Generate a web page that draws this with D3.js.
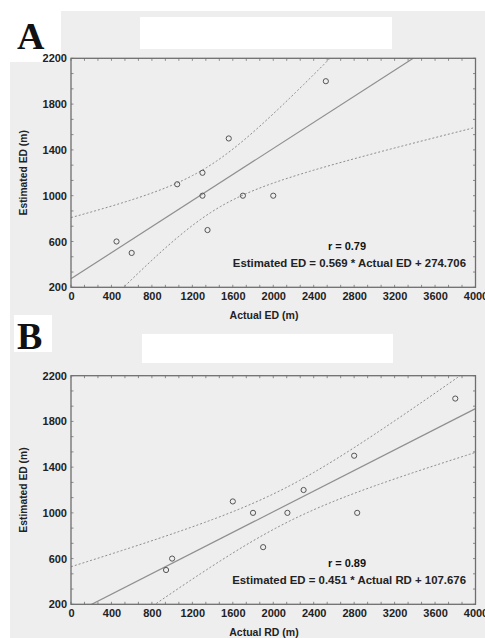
<!DOCTYPE html>
<html>
<head>
<meta charset="utf-8">
<script src="https://cdn.jsdelivr.net/npm/d3@7"></script>
<style>
  body { margin: 0; background: #fff; }
  svg { display: block; }
</style>
</head>
<body>
<div id="chart"></div>
<script>
var width = 485,
    height = 638;

// panel A: actual vs estimated ED
var actualED = [450, 600, 1050, 1300, 1300, 1350, 1560, 1700, 2000, 2520];
var estimatedA = [600, 500, 1100, 1200, 1000, 700, 1500, 1000, 1000, 2000];
var slopeA = 0.569, interceptA = 274.706;

// panel B: actual RD vs estimated ED
var actualRD = [940, 1000, 1600, 1800, 1900, 2140, 2300, 2800, 2830, 3800];
var estimatedB = [500, 600, 1100, 1000, 700, 1000, 1200, 1500, 1000, 2000];
var slopeB = 0.451, interceptB = 107.676;

var xTicks = [0, 400, 800, 1200, 1600, 2000, 2400, 2800, 3200, 3600, 4000];
var yTicks = [200, 600, 1000, 1400, 1800, 2200];

var bg = "#eeeeee";

var svg = d3.select("#chart")
  .append("svg")
    .attr("width", width)
    .attr("height", height);

svg.append("rect").attr("width", width).attr("height", height).attr("fill", "#fff");

// grey page behind both panels
svg.append("path")
  .attr("d", "M61,11H485V638H10V62H61Z")
  .attr("fill", bg);

// blanked-out title boxes
svg.append("rect").attr("x", 140).attr("y", 17).attr("width", 252).attr("height", 32).attr("fill", "#fff");
svg.append("rect").attr("x", 142).attr("y", 334).attr("width", 251).attr("height", 29).attr("fill", "#fff");
svg.append("rect").attr("x", 14).attr("y", 315).attr("width", 38).attr("height", 37).attr("fill", "#fff");

function drawPanel(opt) {
  var x = d3.scaleLinear().domain([0, 4000]).range([71, 475.5]);
  var y = d3.scaleLinear().domain([200, 2200]).range([opt.bottom, opt.top]);
  var g = svg.append("g");

  var clipId = "clip" + opt.letter;
  g.append("clipPath").attr("id", clipId)
    .append("rect")
      .attr("x", x(0)).attr("y", y(2200))
      .attr("width", x(4000) - x(0)).attr("height", y(200) - y(2200));

  // panel letter
  svg.append("text")
    .attr("x", 17).attr("y", opt.letterY)
    .text(opt.letter)
    .style("font-family", "'Liberation Serif', 'Times New Roman', serif")
    .style("font-weight", "bold")
    .style("font-size", "38px")
    .attr("fill", "#111");

  // 95% confidence band of the fitted line, from the data
  var n = opt.xs.length;
  var mx = d3.mean(opt.xs);
  var sxx = d3.sum(opt.xs, function(v) { return (v - mx) * (v - mx); });
  var sse = d3.sum(opt.xs, function(v, i) {
    var r = opt.ys[i] - (opt.slope * v + opt.intercept);
    return r * r;
  });
  var s = Math.sqrt(sse / (n - 2));
  var tval = 2.306;
  var grid = d3.range(0, 4001, 20);
  function band(sign) {
    return grid.map(function(v) {
      var half = tval * s * Math.sqrt(1 / n + (v - mx) * (v - mx) / sxx);
      return [v, opt.slope * v + opt.intercept + sign * half];
    });
  }
  var line = d3.line()
    .x(function(d) { return x(d[0]); })
    .y(function(d) { return y(d[1]); });

  var inner = g.append("g").attr("clip-path", "url(#" + clipId + ")");
  [1, -1].forEach(function(sgn) {
    inner.append("path")
      .attr("d", line(band(sgn)))
      .attr("fill", "none")
      .attr("stroke", "#8a8a8a")
      .attr("stroke-width", 1)
      .attr("stroke-dasharray", "2,2");
  });
  inner.append("path")
    .attr("d", line([[0, opt.intercept], [4000, opt.slope * 4000 + opt.intercept]]))
    .attr("fill", "none")
    .attr("stroke", "#8f8f8f")
    .attr("stroke-width", 1.2);

  // points
  g.selectAll("circle.pt")
    .data(opt.xs)
    .enter()
    .append("circle")
      .attr("class", "pt")
      .attr("cx", function(d) { return x(d); })
      .attr("cy", function(d, i) { return y(opt.ys[i]); })
      .attr("r", 2.6)
      .attr("fill", "none")
      .attr("stroke", "#555")
      .attr("stroke-width", 1);

  // frame with small inward ticks
  var minorX = d3.range(0, 4001, 400 / 3);
  var minorY = d3.range(200, 2201, 400 / 3);
  var tickG = g.append("g").attr("stroke", "#8a8a8a").attr("stroke-width", 1);
  minorX.forEach(function(v) {
    tickG.append("line").attr("x1", x(v)).attr("x2", x(v)).attr("y1", y(200)).attr("y2", y(200) - 2.5);
    tickG.append("line").attr("x1", x(v)).attr("x2", x(v)).attr("y1", y(2200)).attr("y2", y(2200) + 2.5);
  });
  minorY.forEach(function(v) {
    tickG.append("line").attr("x1", x(0)).attr("x2", x(0) + 2.5).attr("y1", y(v)).attr("y2", y(v));
    tickG.append("line").attr("x1", x(4000)).attr("x2", x(4000) - 2.5).attr("y1", y(v)).attr("y2", y(v));
  });
  g.append("rect")
    .attr("x", x(0)).attr("y", y(2200))
    .attr("width", x(4000) - x(0)).attr("height", y(200) - y(2200))
    .attr("fill", "none")
    .attr("stroke", "#6e6e6e")
    .attr("stroke-width", 1.3);

  // axes labels via d3 axes (lines hidden, only text used)
  var xAxis = g.append("g")
    .attr("transform", "translate(0," + y(200) + ")")
    .call(d3.axisBottom(x).tickValues(xTicks).tickSize(0).tickPadding(5).tickFormat(d3.format("d")));
  var yAxis = g.append("g")
    .attr("transform", "translate(" + x(0) + ",0)")
    .call(d3.axisLeft(y).tickValues(yTicks).tickSize(0).tickPadding(4).tickFormat(d3.format("d")));
  [xAxis, yAxis].forEach(function(a) {
    a.select(".domain").remove();
    a.selectAll("text")
      .attr("fill", "#222")
      .style("font-family", "'Liberation Sans', Arial, sans-serif")
      .style("font-weight", "bold")
      .style("font-size", "11px");
  });

  g.append("text")
    .attr("x", 264).attr("y", y(200) + 32)
    .attr("text-anchor", "middle")
    .text(opt.xTitle)
    .attr("fill", "#222")
    .style("font-family", "'Liberation Sans', Arial, sans-serif")
    .style("font-weight", "bold")
    .style("font-size", "10.5px");

  g.append("text")
    .attr("transform", "translate(27," + (opt.top + opt.bottom) / 2 + ") rotate(-90)")
    .attr("text-anchor", "middle")
    .text("Estimated ED (m)")
    .attr("fill", "#222")
    .style("font-family", "'Liberation Sans', Arial, sans-serif")
    .style("font-weight", "bold")
    .style("font-size", "10.3px");

  g.append("text")
    .attr("x", 347).attr("y", opt.bottom - 37)
    .attr("text-anchor", "middle")
    .text("r = " + opt.r)
    .attr("fill", "#111")
    .style("font-family", "'Liberation Sans', Arial, sans-serif")
    .style("font-weight", "bold")
    .style("font-size", "11px");

  g.append("text")
    .attr("x", 466).attr("y", opt.bottom - 20)
    .attr("text-anchor", "end")
    .text(opt.equation)
    .attr("fill", "#222")
    .style("font-family", "'Liberation Sans', Arial, sans-serif")
    .style("font-weight", "bold")
    .style("font-size", "11.4px");
}

drawPanel({
  letter: "A", letterY: 49, top: 58.3, bottom: 287.3,
  xs: actualED, ys: estimatedA, slope: slopeA, intercept: interceptA,
  xTitle: "Actual ED (m)", r: "0.79",
  equation: "Estimated ED = 0.569 * Actual ED + 274.706"
});

drawPanel({
  letter: "B", letterY: 349, top: 375.7, bottom: 604.3,
  xs: actualRD, ys: estimatedB, slope: slopeB, intercept: interceptB,
  xTitle: "Actual RD (m)", r: "0.89",
  equation: "Estimated ED = 0.451 * Actual RD + 107.676"
});
</script>
</body>
</html>
